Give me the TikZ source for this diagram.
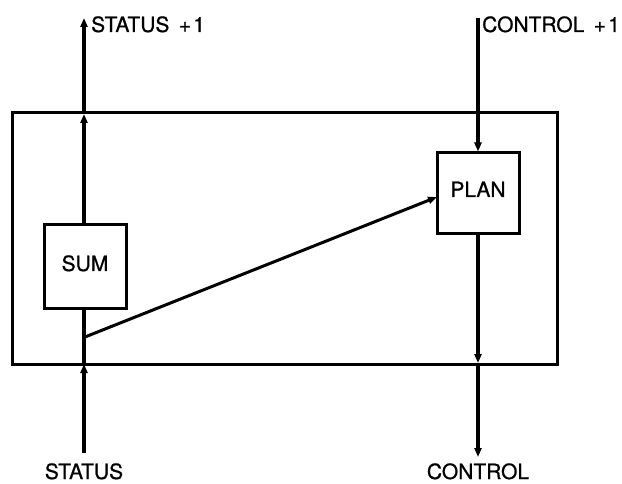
\documentclass[tikz,border=0pt]{standalone}
\usepackage{fontspec}
\setmainfont{TeX Gyre Heros}
\newfontfamily\lblfont{TeX Gyre Heros}[FakeBold=0.8]
\usetikzlibrary{arrows.meta}
\begin{document}
\begin{tikzpicture}[x=1pt,y=-1pt,
  sig/.style={line width=3.4pt,-{Triangle[length=9pt,width=7pt]}},
  plainsig/.style={line width=3.4pt},
  boxstyle/.style={draw,line width=3pt,inner sep=0pt},
  lbl/.style={font=\lblfont\fontsize{21}{25}\selectfont,inner sep=0pt}]
\useasboundingbox (0,0) rectangle (622,484);
% outer frame
\node[boxstyle,minimum width=545pt,minimum height=251pt] (frame) at (284.5,238.5) {};
\node[boxstyle,minimum width=82pt,minimum height=83pt] (sum) at (85,266.5) {};
\node[boxstyle,minimum width=82pt,minimum height=81pt] (plan) at (478,193.5) {};
\node[lbl,anchor=base] (sumtxt) at (85,271) {SUM};
\node[lbl,anchor=base] (plantxt) at (478,197) {PLAN};
% end coordinates
\coordinate (sin) at (84,453);
\coordinate (sout) at (84,18);
\coordinate (cin) at (478,18);
\coordinate (cout) at (478,457);
\coordinate (sfb) at (84,364);
\coordinate (sft) at (84,114);
\coordinate (sfbot) at (84,308);
\coordinate (sumtop) at (84,225);
\coordinate (cfb) at (478,363);
\coordinate (tap) at (85,337);
\coordinate (planin) at (437,197);
% left signal line
\draw[sig] (sin) -- (sfb);
\draw[plainsig] (sfb) -- (sfbot);
\draw[sig] (sumtop) -- (sft);
\draw[sig] (sft) -- (sout);
% right signal line
\draw[sig] (cin) -- (plan.north);
\draw[sig] (plan.south) -- (cfb);
\draw[sig] (cfb) -- (cout);
% diagonal
\draw[line width=3pt,-{Triangle[length=9pt,width=7pt]}] (tap) -- (planin);
% labels
\node[lbl,anchor=base west] (st1) at (91,32) {STATUS\hspace{0.45em}+\hspace{0.1em}1};
\node[lbl,anchor=base west] (ct1) at (482,32) {CONTROL\hspace{0.45em}+\hspace{0.1em}1};
\node[lbl,anchor=base] (st) at (84,479) {STATUS};
\node[lbl,anchor=base] (ct) at (478,479) {CONTROL};
\end{tikzpicture}
\end{document}
